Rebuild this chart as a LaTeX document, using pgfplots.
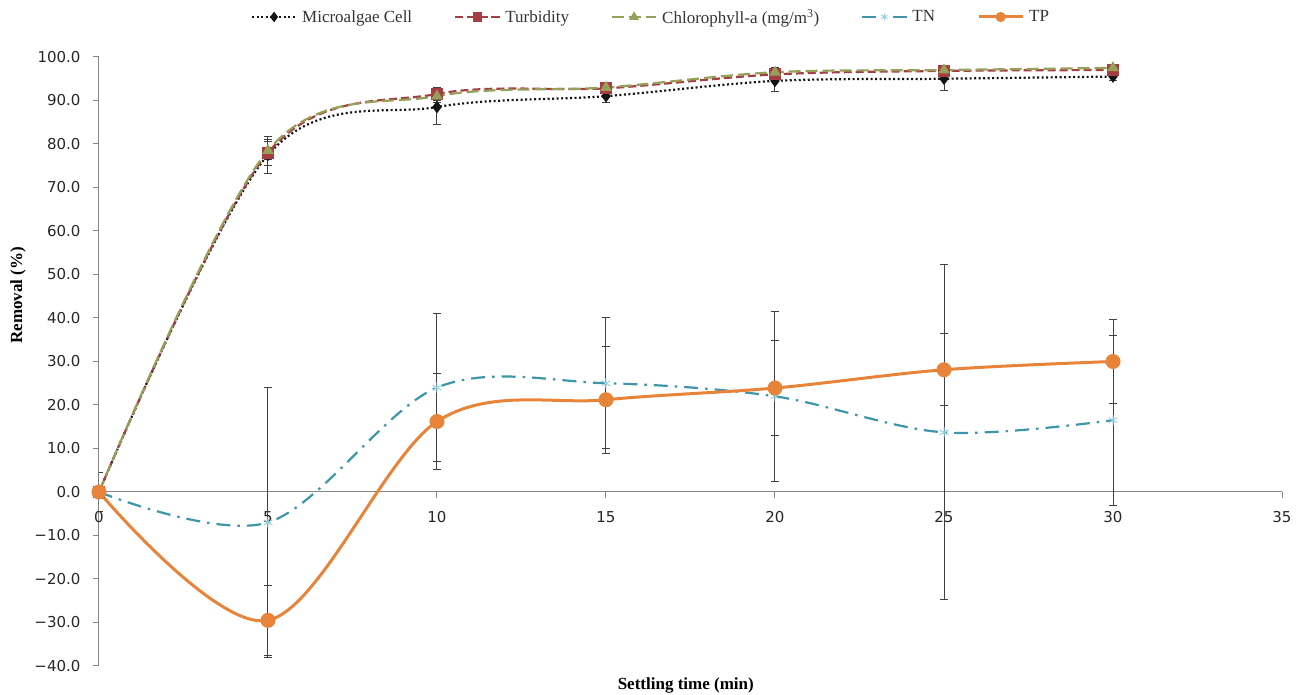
\documentclass[border=0pt]{standalone}
\usepackage{fontspec}
\setmainfont{Liberation Serif}
\newfontfamily\tickfont{DejaVu Sans}
\usepackage{pgfplots}
\pgfplotsset{compat=1.18}
\usepackage{pgfplotstable}

\definecolor{cellc}{RGB}{20,20,20}
\definecolor{turbc}{RGB}{165,62,66}
\definecolor{chlc}{RGB}{150,160,88}
\definecolor{tnc}{RGB}{62,150,170}
\definecolor{tnm}{RGB}{150,210,225}
\definecolor{tpc}{RGB}{232,132,58}
\definecolor{axisgrey}{RGB}{134,134,134}

% settling time (min), removal (%), standard deviation
\pgfplotstableread{
x y e
0 0 4.5
5 77.5 4.2
10 88.5 4.0
15 91.0 1.5
20 94.5 2.5
25 95.0 2.8
30 95.5 1.0
}\cell
\pgfplotstableread{
x y e
0 0 1.0
5 78.0 3.0
10 91.5 1.5
15 92.8 1.0
20 96.0 1.0
25 96.8 1.0
30 97.0 1.0
}\turb
\pgfplotstableread{
x y e
0 0 1.0
5 78.5 2.0
10 91.0 1.5
15 93.0 1.0
20 96.5 1.0
25 97.0 1.0
30 97.5 0.5
}\chl
\pgfplotstableread{
x y e
0 0 1.0
5 -7.0 31.0
10 24.0 17.0
15 25.0 15.0
20 22.0 19.5
25 13.7 38.5
30 16.5 19.5
}\tn
\pgfplotstableread{
x y e
0 0 1.5
5 -29.5 8.0
10 16.2 11.0
15 21.2 12.3
20 23.9 11.0
25 28.1 8.3
30 30.0 9.6
}\tp

\begin{document}
\begin{tikzpicture}
\begin{axis}[
  scale only axis,
  width=1183pt, height=609pt,
  xmin=0, xmax=35, ymin=-40, ymax=100,
  axis y line=left, axis x line=middle,
  axis line style={-, axisgrey, line width=1pt},
  hide obscured x ticks=false, hide obscured y ticks=false,
  xtick={0,5,...,35},
  xticklabels={0,5,10,15,20,25,30,35},
  ytick={-40,-30,...,100},
  yticklabels={−40.0,−30.0,−20.0,−10.0,0.0,10.0,20.0,30.0,40.0,50.0,60.0,70.0,80.0,90.0,100.0},
  tick style={axisgrey, line width=1pt},
  major tick length=6pt,
  y tick style={/pgfplots/tick align=outside},
  x tick style={/pgfplots/tick align=outside},
  ticklabel style={font=\tickfont\fontsize{15}{17}\selectfont, text=black!85},
  xticklabel style={yshift=-13pt},
  yticklabel style={xshift=-12pt},
  xlabel={Settling time (min)},
  ylabel={Removal (\%)},
  label style={font=\bfseries\fontsize{17}{20}\selectfont},
  xlabel style={at={(axis description cs:0.496,-0.0328)}, anchor=center},
  ylabel style={at={(axis description cs:-0.0685,0.609)}, anchor=center, rotate=0},
  legend columns=5,
  legend style={
    at={(axis description cs:0.4666,1.0657)}, anchor=center,
    draw=none, fill=none,
    font=\fontsize{17}{20}\selectfont, text=black!80,
    /tikz/every even column/.append style={column sep=40pt},
    /tikz/every odd column/.append style={column sep=3pt},
  },
  legend image code/.code={
    \draw[mark repeat=2, mark phase=2, mark size=3.5pt] plot coordinates {(0pt,0pt) (22pt,0pt) (44pt,0pt)};
  },
  every axis plot/.append style={
    smooth, tension=0.55,
    error bars/y dir=both, error bars/y explicit,
    error bars/error bar style={black!75, line width=1pt, solid},
    error bars/error mark options={black!75, line width=1pt, mark size=4pt, rotate=90, solid},
  },
]
\addplot[cellc, line width=2.2pt, dash pattern=on 2pt off 2.5pt,
  mark=diamond*, mark size=4.5pt, mark options={solid, cellc}]
  table[x=x, y=y, y error=e] {\cell};
\addlegendentry{Microalgae Cell}
\addplot[turbc, line width=2.2pt, dash pattern=on 8pt off 4pt,
  mark=square*, mark size=5pt, mark options={solid, turbc}]
  table[x=x, y=y, y error=e] {\turb};
\addlegendentry{Turbidity}
\addplot[chlc, line width=2.2pt, dash pattern=on 12pt off 5pt,
  mark=triangle*, mark size=4.5pt, mark options={solid, chlc}]
  table[x=x, y=y, y error=e] {\chl};
\addlegendentry{Chlorophyll-a (mg/m\textsuperscript{3})}
\addplot[tnc, line width=2.2pt, dash pattern=on 14pt off 7pt on 2.5pt off 7pt,
  mark=asterisk, mark size=5pt, mark options={solid, tnm, line width=1pt}]
  table[x=x, y=y, y error=e] {\tn};
\addlegendentry{TN}
\addplot[tpc, line width=3pt, solid,
  mark=*, mark size=6pt, mark options={solid, tpc}]
  table[x=x, y=y, y error=e] {\tp};
\addlegendentry{TP}
\coordinate (pa) at (rel axis cs:0,0);
\end{axis}
\pgfresetboundingbox
\path[use as bounding box] ([shift={(-99pt,-29pt)}]pa) rectangle ([shift={(1203pt,666pt)}]pa);
\end{tikzpicture}
\end{document}
